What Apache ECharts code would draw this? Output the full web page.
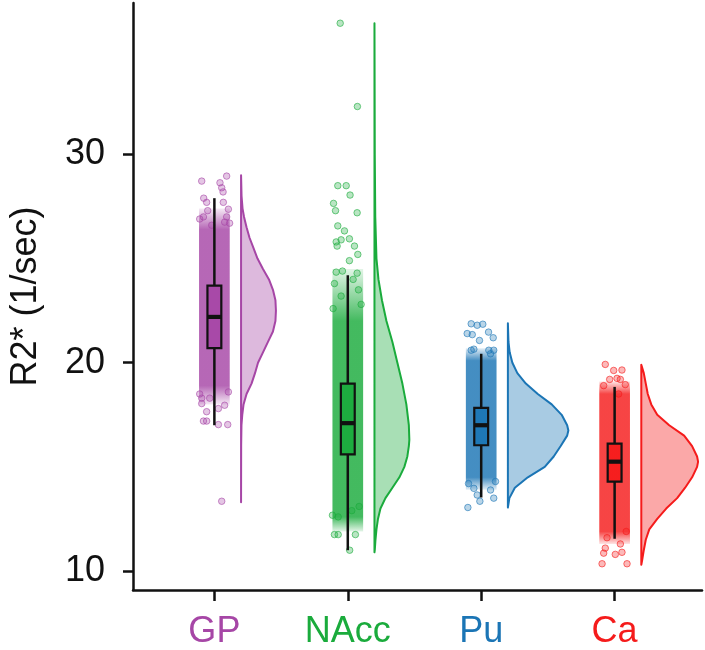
<!DOCTYPE html>
<html><head><meta charset="utf-8">
<script src="https://cdn.jsdelivr.net/npm/echarts@6/dist/echarts.min.js"></script>
<style>html,body{margin:0;padding:0;background:#fff}#c{width:705px;height:650px}</style>
</head><body><div id="c"></div>
<script>
// ---------------- data ----------------
const categories = ['GP', 'NAcc', 'Pu', 'Ca'];
const yTicks = [10, 20, 30];
const xTicks = [1, 2, 3, 4];

// boxplot stats: [low whisker, Q1, median, Q3, high whisker]
const boxGP   = [17.0, 20.7, 22.2, 23.7, 27.9];
const boxNAcc = [11.0, 15.6, 17.1, 19.0, 24.2];
const boxPu   = [13.53, 16.04, 17.0, 17.83, 20.43];
const boxCa   = [11.55, 14.29, 15.25, 16.12, 18.84];

// dense part of the jittered cloud: [outer low, inner low, inner high, outer high]
const coreGP   = [18.0, 18.9, 26.4, 27.4];
const coreNAcc = [11.9, 12.6, 22.0, 24.5];
const corePu   = [13.9, 14.5, 20.1, 20.7];
const coreCa   = [11.3, 11.9, 18.5, 19.1];

// sparse individual points: [jitter offset, value]
const pointsGP = [
  [0.092,28.96],[-0.095,28.72],[0.042,28.64],[0.055,28.4],[0.065,28.2],[-0.08,27.9],
  [-0.058,27.7],[0.067,27.7],[0.105,27.37],[-0.05,27.3],[-0.082,27.0],[0.092,27.0],
  [0.077,26.75],[-0.11,26.9],[-0.02,26.6],[0.114,26.7],
  [-0.035,18.3],[-0.095,18.3],[-0.095,18.04],[0.077,17.96],[0.03,17.8],[-0.058,17.65],
  [-0.082,17.2],[-0.058,17.2],[0.03,17.03],[0.1,17.03],[0.055,13.35],[0.105,18.6],[-0.11,18.5]
];
const pointsNAcc = [
  [-0.057,36.3],[0.072,32.3],[-0.075,28.5],[-0.012,28.5],[0.017,28.05],[-0.107,27.65],
  [-0.092,27.3],[0.07,27.2],[-0.075,26.57],[-0.025,26.33],[-0.087,25.8],[-0.05,25.9],
  [0.012,25.95],[-0.08,25.6],[0.05,25.6],[0.075,25.2],[0.012,24.9],[-0.087,24.35],
  [-0.04,24.4],[0.07,24.3],[-0.1,23.8],[0.08,23.5],[-0.05,23.2],[0.1,22.8],[-0.11,22.6],[0.04,24.0],
  [-0.1,11.75],[-0.072,11.75],[0.057,11.75],[0.014,11.0],[-0.115,12.68],[-0.072,12.6],
  [0.03,12.9],[0.085,13.1]
];
const pointsPu = [
  [-0.075,21.87],[-0.03,21.8],[0.012,21.85],[-0.105,21.4],[-0.067,21.35],[0.055,21.47],
  [0.09,21.2],[-0.013,21.07],[-0.075,20.6],[-0.055,20.65],[0.057,20.6],[0.094,20.6],[0.07,20.43],
  [-0.095,14.2],[-0.055,13.97],[-0.03,13.65],[0.07,13.89],[0.094,13.5],[-0.1,13.05],
  [-0.01,13.35],[0.107,14.3]
];
const pointsCa = [
  [-0.07,19.92],[-0.007,19.63],[0.055,19.65],[-0.037,19.2],[0.018,19.25],[0.043,19.2],
  [-0.082,18.9],[0.08,18.95],[0.03,18.5],
  [-0.082,10.86],[0.005,10.8],[0.055,10.9],[-0.094,10.35],[0.093,10.35],[-0.057,11.6],
  [0.043,11.3],[-0.07,11.1],[0.087,11.9]
];

// half-violin density profiles: [value, density]
const violinGP = [
  [29.0,0],[28.0,0.005],[27.4,0.015],[27.0,0.03],[26.5,0.055],[26.0,0.085],[25.5,0.125],
  [25.0,0.165],[24.5,0.22],[24.0,0.28],[23.5,0.32],[23.0,0.345],[22.5,0.35],[22.0,0.345],
  [21.5,0.32],[21.0,0.27],[20.5,0.22],[20.0,0.17],[19.5,0.14],[19.0,0.105],[18.5,0.055],
  [18.0,0.025],[17.5,0.012],[17.0,0.004],[16.0,0.001],[13.3,0]
];
const violinNAcc = [
  [36.3,0],[30,0.003],[27,0.008],[25,0.02],[24,0.04],[23,0.075],[22,0.12],[21,0.18],
  [20,0.23],[19,0.28],[18,0.32],[17,0.345],[16.3,0.35],[16,0.345],[15.5,0.33],[15,0.30],
  [14.5,0.25],[14,0.18],[13.5,0.11],[13,0.06],[12.5,0.035],[12,0.02],[11.5,0.01],[11,0.003],[10.9,0]
];
const violinPu = [
  [21.9,0],[21.0,0.006],[20.5,0.018],[20.0,0.045],[19.5,0.095],[19.0,0.18],[18.5,0.30],
  [18.0,0.44],[17.5,0.54],[17.0,0.595],[16.75,0.607],[16.5,0.595],[16.0,0.53],[15.5,0.46],
  [15.0,0.37],[14.5,0.20],[14.0,0.07],[13.5,0.015],[13.05,0]
];
const violinCa = [
  [19.9,0],[19.5,0.025],[19.0,0.045],[18.5,0.065],[18.0,0.10],[17.5,0.16],[17.0,0.28],
  [16.5,0.43],[16.0,0.51],[15.5,0.56],[15.25,0.57],[15.0,0.56],[14.5,0.51],[14.0,0.44],
  [13.5,0.36],[13.0,0.25],[12.5,0.16],[12.0,0.08],[11.5,0.045],[11.0,0.025],[10.5,0.008],[10.3,0]
];

// ---------------- styling ----------------
const colors = ['#a646a6', '#1aab3c', '#1b75b5', '#f51b1b'];
const boxes = [boxGP, boxNAcc, boxPu, boxCa];
const cores = [coreGP, coreNAcc, corePu, coreCa];
const points = [pointsGP, pointsNAcc, pointsPu, pointsCa];
const violins = [violinGP, violinNAcc, violinPu, violinCa];
const FONT = 'Liberation Sans, Arial, sans-serif';
const JITTER = 0.115;
const BOX_HALF = 0.052;
const VIOLIN_OFFSET = 0.2;
const VIOLIN_SCALE = 0.7468;

function rgba(hex, a) {
  const n = parseInt(hex.slice(1), 16);
  return 'rgba(' + ((n >> 16) & 255) + ',' + ((n >> 8) & 255) + ',' + (n & 255) + ',' + a + ')';
}

const series = [];
categories.forEach(function (name, i) {
  const c = colors[i];
  // dense cloud, fading at both ends
  series.push({
    type: 'custom', z: 1, silent: true,
    data: [[i + 1].concat(cores[i])],
    encode: { x: 0, y: [1, 2, 3, 4] },
    renderItem: function (params, api) {
      const x = api.value(0);
      const top = api.coord([x - JITTER, api.value(4)]);
      const bot = api.coord([x + JITTER, api.value(1)]);
      const ih = api.coord([x, api.value(3)])[1];
      const il = api.coord([x, api.value(2)])[1];
      const h = bot[1] - top[1];
      const f1 = (ih - top[1]) / h, f2 = (il - top[1]) / h;
      const grad = new echarts.graphic.LinearGradient(0, 0, 0, 1, [
        { offset: 0, color: rgba(c, 0.12) },
        { offset: f1, color: rgba(c, 0.82) },
        { offset: f2, color: rgba(c, 0.82) },
        { offset: 1, color: rgba(c, 0.12) }
      ]);
      return { type: 'rect', shape: { x: top[0], y: top[1], width: bot[0] - top[0], height: h }, style: { fill: grad } };
    }
  });
  // sparse points
  series.push({
    type: 'scatter', z: 2, silent: true,
    symbol: 'circle', symbolSize: 6.5,
    itemStyle: { color: rgba(c, 0.38), borderColor: rgba(c, 0.75), borderWidth: 1 },
    data: points[i].map(function (p) { return [i + 1 + p[0], p[1]]; })
  });
  // boxplot
  series.push({
    type: 'custom', z: 3, silent: true,
    data: [[i + 1].concat(boxes[i])],
    encode: { x: 0, y: [1, 2, 3, 4, 5] },
    renderItem: function (params, api) {
      const x = api.value(0);
      const lo = api.coord([x, api.value(1)]), q1 = api.coord([x, api.value(2)]);
      const q3 = api.coord([x, api.value(4)]), hi = api.coord([x, api.value(5)]);
      const tl = api.coord([x - BOX_HALF, api.value(4)]), br = api.coord([x + BOX_HALF, api.value(2)]);
      const ml = api.coord([x - BOX_HALF, api.value(3)]), mr = api.coord([x + BOX_HALF, api.value(3)]);
      const ls = { stroke: '#111', lineWidth: 2.5 };
      return { type: 'group', children: [
        { type: 'line', shape: { x1: lo[0], y1: lo[1], x2: q1[0], y2: q1[1] }, style: ls },
        { type: 'line', shape: { x1: q3[0], y1: q3[1], x2: hi[0], y2: hi[1] }, style: ls },
        { type: 'rect', shape: { x: tl[0], y: tl[1], width: br[0] - tl[0], height: br[1] - tl[1] }, style: { fill: rgba(c, 0.9), stroke: '#111', lineWidth: 2.2 } },
        { type: 'line', shape: { x1: ml[0], y1: ml[1], x2: mr[0], y2: mr[1] }, style: { stroke: '#111', lineWidth: 4.2 } }
      ]};
    }
  });
  // half violin
  const prof = violins[i];
  series.push({
    type: 'custom', z: 2, silent: true,
    data: [[i + 1, prof[0][0]]],
    encode: { x: 0, y: 1 },
    renderItem: function (params, api) {
      const base = api.value(0) + VIOLIN_OFFSET;
      const pts = [api.coord([base, prof[0][0]])];
      prof.forEach(function (p) { pts.push(api.coord([base + p[1] * VIOLIN_SCALE, p[0]])); });
      pts.push(api.coord([base, prof[prof.length - 1][0]]));
      return { type: 'polygon', shape: { points: pts, smooth: 0 }, style: { fill: rgba(c, 0.38), stroke: c, lineWidth: 2, lineJoin: 'round' } };
    }
  });
});

const rich = {};
categories.forEach(function (n, i) { rich['c' + i] = { color: colors[i], fontSize: 36, fontFamily: FONT }; });

const chart = echarts.init(document.getElementById('c'), null, { renderer: 'canvas' });
chart.setOption({
  animation: false,
  backgroundColor: '#fff',
  grid: { left: 131, right: 3, top: 3, bottom: 58, containLabel: false },
  xAxis: {
    type: 'value', min: 0.39, max: 4.655,
    axisLine: { show: true, onZero: false, lineStyle: { color: '#111', width: 2.5 } },
    axisTick: { show: true, customValues: xTicks, length: 11, lineStyle: { color: '#111', width: 2.5 } },
    axisLabel: {
      customValues: xTicks, margin: 24,
      formatter: function (v) { const k = Math.round(v) - 1; return '{c' + k + '|' + categories[k] + '}'; },
      rich: rich
    },
    splitLine: { show: false }
  },
  yAxis: {
    type: 'value', min: 9.09, max: 37.27,
    name: 'R2* (1/sec)', nameLocation: 'middle', nameGap: 89,
    nameTextStyle: { fontSize: 36, color: '#111', fontFamily: FONT },
    axisLine: { show: true, onZero: false, lineStyle: { color: '#111', width: 2.5 } },
    axisTick: { show: true, customValues: yTicks, length: 10, lineStyle: { color: '#111', width: 2.5 } },
    axisLabel: { customValues: yTicks, margin: 28, fontSize: 36, color: '#111', fontFamily: FONT },
    splitLine: { show: false }
  },
  series: series
});
</script>
</body></html>
